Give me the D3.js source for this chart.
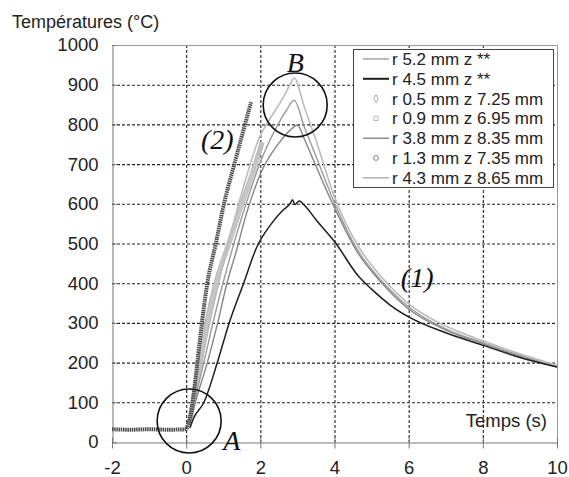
<!DOCTYPE html>
<html>
<head>
<meta charset="utf-8">
<script src="https://cdn.jsdelivr.net/npm/d3@7"></script>
<style>
  body { margin: 0; background: #fff; }
  text { font-family: "Liberation Sans", Arial, sans-serif; fill: #222; }
  .note { font-family: "Liberation Serif", "Times New Roman", serif; font-style: italic; fill: #111; }
</style>
</head>
<body>
<div class="chart-container"></div>
<script>
// tick labels
var xTicks = [-2, 0, 2, 4, 6, 8, 10];
var yTicks = [0, 100, 200, 300, 400, 500, 600, 700, 800, 900, 1000];

// series names (legend order)
var names = ["r 5.2 mm z **", "r 4.5 mm z **", "r 0.5 mm z 7.25 mm", "r 0.9 mm z 6.95 mm",
             "r 3.8 mm z 8.35 mm", "r 1.3 mm z 7.35 mm", "r 4.3 mm z 8.65 mm"];

// [time (s), temperature (°C)]
var r52 = [[0.08,45],[0.22,100],[0.5,210],[0.8,330],[1.05,420],[1.35,520],[1.65,610],[2.0,705],
           [2.42,790],[2.7,835],[2.91,861],[3.2,790],[3.5,720],[4.0,602],[4.66,478],[5.0,435],
           [5.5,383],[6.0,340],[7.0,285],[8.0,250],[9.0,218],[10.0,190]];
var r45 = [[0.1,35],[0.2,60],[0.48,100],[0.84,200],[1.16,300],[1.55,400],[1.9,490],[2.3,550],
           [2.6,583],[2.8,600],[2.87,610],[2.93,598],[3.05,607],[3.2,595],[3.5,560],[4.0,505],
           [4.66,416],[5.0,385],[5.5,345],[6.0,315],[7.0,275],[8.0,244],[9.0,213],[10.0,189]];
var r05 = [[0.08,45],[0.2,110],[0.4,220],[0.6,320],[0.8,400],[1.15,500],[1.5,600],[1.8,680],
           [2.0,740],[2.05,755]];
var r09 = [[0.1,45],[0.22,110],[0.42,215],[0.65,325],[0.85,410],[1.2,510],[1.55,610],[1.85,690],
           [1.95,720]];
var r38 = [[0.1,45],[0.25,100],[0.57,200],[0.85,300],[1.1,400],[1.35,480],[1.6,567],[2.05,685],
           [2.5,753],[2.8,785],[3.0,798],[3.2,760],[3.5,695],[4.0,590],[4.66,472],[5.0,430],
           [5.5,378],[6.0,335],[7.0,282],[8.0,248],[9.0,216],[10.0,189]];
var r13 = [[-2,32],[-1.5,31],[-1,32],[-0.5,31],[0,32],[0.05,45],[0.1,60],[0.2,120],[0.3,200],
           [0.57,400],[0.8,500],[1.02,600],[1.3,700],[1.5,770],[1.75,856]];
var r43 = [[0.08,45],[0.2,100],[0.45,220],[0.75,350],[1.0,450],[1.3,560],[1.6,660],[1.97,766],
           [2.24,811],[2.6,865],[2.8,900],[2.91,917],[3.2,840],[3.5,760],[4.0,617],[4.66,490],
           [5.0,445],[5.5,392],[6.0,348],[7.0,292],[8.0,255],[9.0,222],[10.0,193]];

// annotations: circles and labels in data units
var circles = [[0.08, 53], [2.94, 849]];
var notes = [["A", 1.0, -20, "start"], ["B", 2.94, 932, "middle"], ["(2)", 0.84, 737, "middle"], ["(1)", 6.23, 390, "middle"]];

var width = 569, height = 477;

var x = d3.scaleLinear().domain([-2, 10]).range([112, 557]);
var y = d3.scaleLinear().domain([0, 1000]).range([442, 45]);
function px(v) { return Math.round(v) + 0.5; }

var svg = d3.select('.chart-container').append("svg")
    .attr("width", width)
    .attr("height", height);

svg.append("rect").attr("width", width).attr("height", height).attr("fill", "#fff");

// dotted grid drawn through axis generators
svg.append("g")
    .attr("class", "grid")
    .attr("transform", "translate(0," + y(1000) + ")")
    .call(d3.axisBottom(x).tickValues(xTicks.slice(1, -1)).tickSize(y(0) - y(1000)).tickFormat(""));
svg.append("g")
    .attr("class", "grid")
    .attr("transform", "translate(" + x(-2) + ",0)")
    .call(d3.axisRight(y).tickValues(yTicks.slice(1, -1)).tickSize(x(10) - x(-2)).tickFormat(""));
svg.selectAll(".grid .domain").remove();
svg.selectAll(".grid line")
    .attr("stroke", "#222")
    .attr("stroke-width", 1.1)
    .attr("stroke-dasharray", "3,2");

// frame top / right
svg.append("path")
    .attr("d", "M" + x(-2) + "," + px(y(1000)) + "H" + px(x(10)) + "V" + y(0))
    .attr("fill", "none").attr("stroke", "#999");

// axes
var fmt = function (d) { return String(d); };
var xAxis = svg.append("g")
    .attr("transform", "translate(0," + px(y(0)) + ")")
    .call(d3.axisBottom(x).tickValues(xTicks).tickFormat(fmt).tickSize(6).tickPadding(12).tickSizeOuter(0));
var yAxis = svg.append("g")
    .attr("transform", "translate(" + px(x(-2)) + ",0)")
    .call(d3.axisLeft(y).tickValues(yTicks).tickFormat(fmt).tickSize(6).tickPadding(8).tickSizeOuter(0));

[xAxis, yAxis].forEach(function (a) {
  a.select(".domain").attr("stroke", "#777");
  a.selectAll(".tick line").attr("stroke", "#777");
  a.selectAll(".tick text").style("font-size", "18.5px").attr("fill", "#222");
});
xAxis.selectAll(".tick line").attr("y1", -5);
yAxis.selectAll(".tick line").attr("x2", 4);

// curves
var line = d3.line()
    .x(function (d) { return x(d[0]); })
    .y(function (d) { return y(d[1]); })
    .curve(d3.curveMonotoneX);

var series = [
  {data: r05, color: "#bdbdbd", w: 5, dash: null},
  {data: r09, color: "#c6c6c6", w: 4, dash: null},
  {data: r38, color: "#858585", w: 1.4, dash: null},
  {data: r52, color: "#9c9c9c", w: 1.4, dash: null},
  {data: r43, color: "#bcbcbc", w: 1.6, dash: null},
  {data: r13, color: "#4a4a4a", w: 4, dash: "1.5,0.7"},
  {data: r45, color: "#1e1e1e", w: 1.5, dash: null}
];

svg.append("g").selectAll("path")
    .data(series)
    .enter().append("path")
    .attr("d", function (d) { return line(d.data); })
    .attr("fill", "none")
    .attr("stroke", function (d) { return d.color; })
    .attr("stroke-width", function (d) { return d.w; })
    .attr("stroke-dasharray", function (d) { return d.dash; })
    .attr("stroke-linejoin", "round");

// legend
var lg = svg.append("g");
lg.append("rect")
    .attr("x", 353.5).attr("y", 49.5).attr("width", 200).attr("height", 138)
    .attr("fill", "#fff").attr("stroke", "#444");

var legendStyle = [
  {type: "line", color: "#9c9c9c", w: 1.4},
  {type: "line", color: "#1e1e1e", w: 2},
  {type: "diamond", color: "#aaa"},
  {type: "square", color: "#bbb"},
  {type: "line", color: "#858585", w: 1.4},
  {type: "circle", color: "#777"},
  {type: "line", color: "#b5b5b5", w: 1.6}
];

var row = lg.selectAll(".row")
    .data(names)
    .enter().append("g")
    .attr("transform", function (d, i) { return "translate(363," + (59 + i * 19.8) + ")"; });

row.each(function (d, i) {
  var g = d3.select(this), s = legendStyle[i];
  if (s.type === "line") {
    g.append("line").attr("x1", 0).attr("x2", 26)
      .attr("stroke", s.color).attr("stroke-width", s.w);
  } else {
    var sym = s.type === "diamond" ? d3.symbolDiamond : (s.type === "square" ? d3.symbolSquare : d3.symbolCircle);
    g.append("path").attr("transform", "translate(13,0)")
      .attr("d", d3.symbol().type(sym).size(18))
      .attr("fill", "#fff").attr("stroke", s.color);
  }
  g.append("text").attr("x", 29).attr("dy", "0.35em")
    .style("font-size", "17px").text(d);
});

// annotations
svg.append("g").selectAll("circle")
    .data(circles)
    .enter().append("circle")
    .attr("cx", function (d) { return x(d[0]); })
    .attr("cy", function (d) { return y(d[1]); })
    .attr("r", 32)
    .attr("fill", "none").attr("stroke", "#111").attr("stroke-width", 1.6);

svg.append("g").selectAll("text")
    .data(notes)
    .enter().append("text")
    .attr("class", "note")
    .attr("x", function (d) { return x(d[1]); })
    .attr("y", function (d) { return y(d[2]); })
    .attr("text-anchor", function (d) { return d[3]; })
    .style("font-size", "28px")
    .text(function (d) { return d[0]; });

// titles
svg.append("text").attr("x", 12).attr("y", 28).style("font-size", "18px").text("Températures (°C)");
svg.append("text").attr("x", 547).attr("y", 427).attr("text-anchor", "end").style("font-size", "18.5px").text("Temps (s)");
</script>
</body>
</html>
